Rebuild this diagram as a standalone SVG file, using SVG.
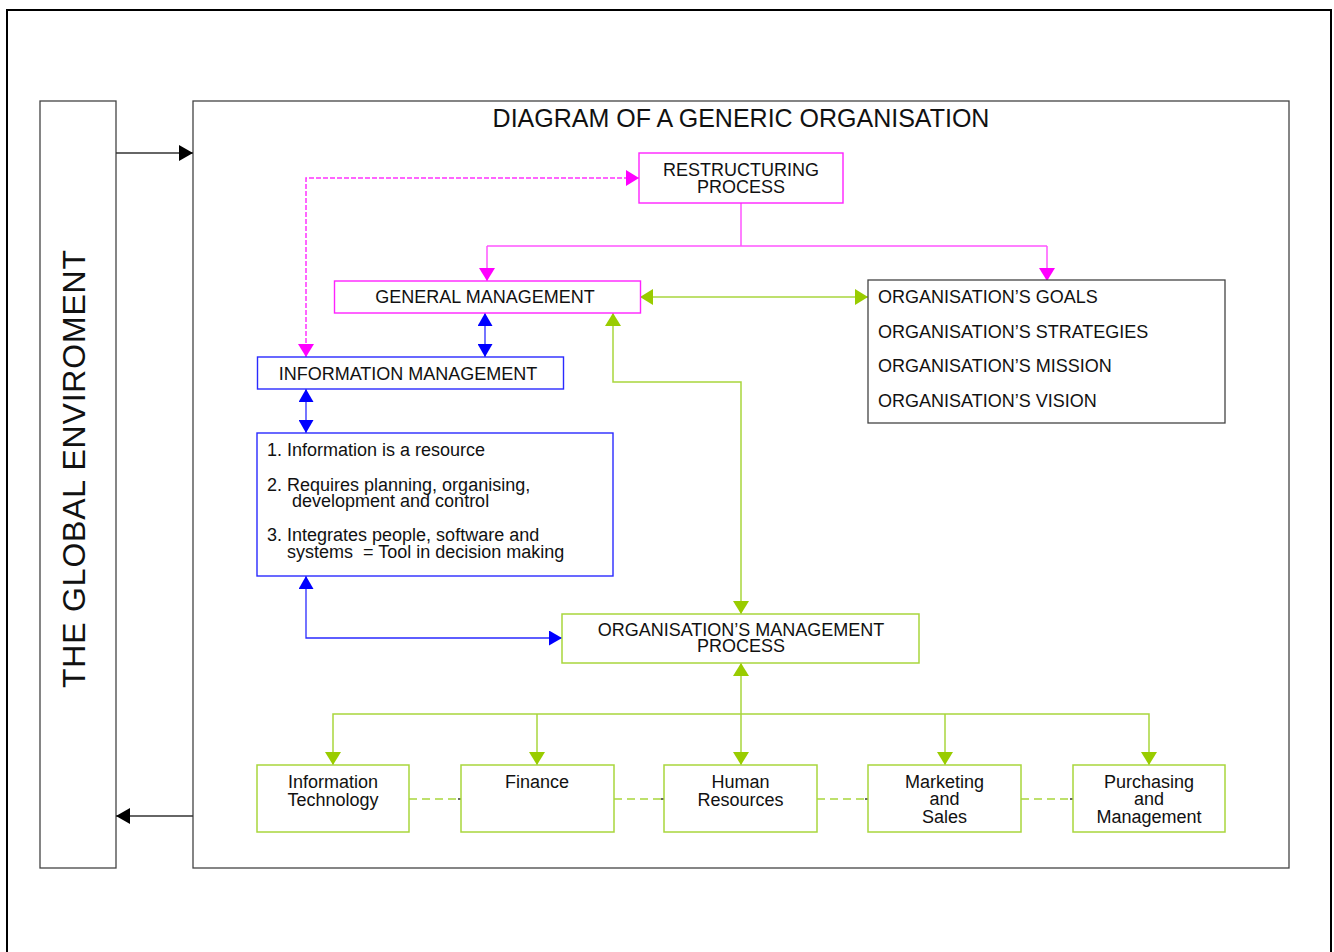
<svg xmlns="http://www.w3.org/2000/svg" width="1334" height="952" viewBox="0 0 1334 952">
  <style>
    text { font-family: "Liberation Sans", Arial, Helvetica, sans-serif; fill: #111; }
    .t18 { font-size: 18px; }
    .mid { text-anchor: middle; }
    .frame { fill: none; stroke: #000; stroke-width: 2; }
    .box { fill: #fff; stroke: #444; stroke-width: 1.3; }
    .mag { fill: #fff; stroke: #ff22ff; stroke-width: 1.4; }
    .blu { fill: #fff; stroke: #2a2aff; stroke-width: 1.4; }
    .grn { fill: #fff; stroke: #a9d63c; stroke-width: 1.5; }
    .blk-ln { fill: none; stroke: #333; stroke-width: 1.3; }
    .mag-ln { fill: none; stroke: #ff55ff; stroke-width: 1.5; }
    .mag-dash { fill: none; stroke: #ff33ff; stroke-width: 1.5; stroke-dasharray: 5 2; }
    .blu-ln { fill: none; stroke: #2a2aff; stroke-width: 1.3; }
    .grn-ln { fill: none; stroke: #a9d63c; stroke-width: 1.5; }
    .grn-dash { fill: none; stroke: #a9d63c; stroke-width: 1.5; stroke-dasharray: 8 5; }
  </style>
  <defs>
    <marker id="arrBlack" viewBox="0 0 14 16" markerUnits="userSpaceOnUse" markerWidth="14" markerHeight="16" refX="14" refY="8" orient="auto-start-reverse">
      <path d="M0,0 L14,8 L0,16 Z" fill="#000"/>
    </marker>
    <marker id="arrMag" viewBox="0 0 13 16" markerUnits="userSpaceOnUse" markerWidth="13" markerHeight="16" refX="13" refY="8" orient="auto-start-reverse">
      <path d="M0,0 L13,8 L0,16 Z" fill="#ff00ff"/>
    </marker>
    <marker id="arrBlue" viewBox="0 0 13 15" markerUnits="userSpaceOnUse" markerWidth="13" markerHeight="15" refX="13" refY="7.5" orient="auto-start-reverse">
      <path d="M0,0 L13,7.5 L0,15 Z" fill="#0000ff"/>
    </marker>
    <marker id="arrGreen" viewBox="0 0 13 16" markerUnits="userSpaceOnUse" markerWidth="13" markerHeight="16" refX="13" refY="8" orient="auto-start-reverse">
      <path d="M0,0 L13,8 L0,16 Z" fill="#99cc00"/>
    </marker>
  </defs>

  <rect width="1334" height="952" fill="#fff"/>
  <!-- page frame (runs past the bottom edge) -->
  <rect class="frame" x="7" y="10" width="1324" height="960"/>

  <g id="global-environment">
    <rect class="box" x="40" y="101" width="76" height="767"/>
    <text transform="translate(85,469) rotate(-90)" class="mid" font-size="32" textLength="438" lengthAdjust="spacing">THE GLOBAL ENVIROMENT</text>
  </g>

  <g id="organisation">
    <rect class="box" x="193" y="101" width="1096" height="767"/>
    <text x="741" y="127" class="mid" font-size="25">DIAGRAM OF A GENERIC ORGANISATION</text>
  </g>

  <g id="connectors">
    <!-- environment exchange -->
    <path class="blk-ln" d="M116,153 H193" marker-end="url(#arrBlack)"/>
    <path class="blk-ln" d="M193,816 H116" marker-end="url(#arrBlack)"/>
    <!-- restructuring fan-out -->
    <path class="mag-ln" d="M741,203 V246 M487,246 H1047"/>
    <path class="mag-ln" d="M487,246 V281" marker-end="url(#arrMag)"/>
    <path class="mag-ln" d="M1047,246 V281" marker-end="url(#arrMag)"/>
    <path class="mag-dash" d="M306,357 V178 H639" marker-start="url(#arrMag)" marker-end="url(#arrMag)"/>
    <!-- information flows -->
    <path class="blu-ln" d="M485,313 V357" marker-start="url(#arrBlue)" marker-end="url(#arrBlue)"/>
    <path class="blu-ln" d="M306,389 V433" marker-start="url(#arrBlue)" marker-end="url(#arrBlue)"/>
    <path class="blu-ln" d="M306,576 V638 H562" marker-start="url(#arrBlue)" marker-end="url(#arrBlue)"/>
    <!-- management flows -->
    <path class="grn-ln" d="M640,297 H868" marker-start="url(#arrGreen)" marker-end="url(#arrGreen)"/>
    <path class="grn-ln" d="M613,313 V382 H741 V614" marker-start="url(#arrGreen)" marker-end="url(#arrGreen)"/>
    <path class="grn-ln" d="M741,663 V765" marker-start="url(#arrGreen)" marker-end="url(#arrGreen)"/>
    <path class="grn-ln" d="M333,765 V714 H1149 V765" marker-start="url(#arrGreen)" marker-end="url(#arrGreen)"/>
    <path class="grn-ln" d="M537,714 V765" marker-end="url(#arrGreen)"/>
    <path class="grn-ln" d="M945,714 V765" marker-end="url(#arrGreen)"/>
    <!-- links between departments -->
    <path class="grn-dash" d="M409,799 H458 M614,799 H661 M817,799 H865 M1021,799 H1070"/>
    <path class="blk-ln" d="M458,799 H461 M661,799 H664 M865,799 H868 M1070,799 H1073"/>
  </g>

  <g id="restructuring">
    <rect class="mag" x="639" y="153" width="204" height="50"/>
    <text x="741" y="176" class="t18 mid">RESTRUCTURING</text>
    <text x="741" y="192.5" class="t18 mid">PROCESS</text>
  </g>

  <g id="general-management">
    <rect class="mag" x="334.5" y="281" width="306" height="32"/>
    <text x="485" y="303" class="t18 mid">GENERAL MANAGEMENT</text>
  </g>

  <g id="organisation-goals">
    <rect class="box" x="868" y="280" width="357" height="143"/>
    <text x="878" y="303" class="t18">ORGANISATION’S GOALS</text>
    <text x="878" y="338" class="t18">ORGANISATION’S STRATEGIES</text>
    <text x="878" y="372" class="t18">ORGANISATION’S MISSION</text>
    <text x="878" y="406.5" class="t18">ORGANISATION’S VISION</text>
  </g>

  <g id="information-management">
    <rect class="blu" x="257.5" y="357" width="306" height="32"/>
    <text x="408" y="379.5" class="t18 mid">INFORMATION MANAGEMENT</text>
  </g>

  <g id="information-principles">
    <rect class="blu" x="257" y="433" width="356" height="143"/>
    <text x="267" y="456" class="t18">1. Information is a resource</text>
    <text x="267" y="490.5" class="t18">2. Requires planning, organising,</text>
    <text x="292" y="506.5" class="t18">development and control</text>
    <text x="267" y="541" class="t18">3. Integrates people, software and</text>
    <text x="287" y="558" class="t18" xml:space="preserve">systems  = Tool in decision making</text>
  </g>

  <g id="management-process">
    <rect class="grn" x="562" y="614" width="357" height="49"/>
    <text x="741" y="635.5" class="t18 mid">ORGANISATION’S MANAGEMENT</text>
    <text x="741" y="652" class="t18 mid">PROCESS</text>
  </g>

  <g id="information-technology">
    <rect class="grn" x="257" y="765" width="152" height="67"/>
    <text x="333" y="787.5" class="t18 mid">Information</text>
    <text x="333" y="805.5" class="t18 mid">Technology</text>
  </g>

  <g id="finance">
    <rect class="grn" x="461" y="765" width="153" height="67"/>
    <text x="537" y="787.5" class="t18 mid">Finance</text>
  </g>

  <g id="human-resources">
    <rect class="grn" x="664" y="765" width="153" height="67"/>
    <text x="740.5" y="787.5" class="t18 mid">Human</text>
    <text x="740.5" y="805.5" class="t18 mid">Resources</text>
  </g>

  <g id="marketing-sales">
    <rect class="grn" x="868" y="765" width="153" height="67"/>
    <text x="944.5" y="787.5" class="t18 mid">Marketing</text>
    <text x="944.5" y="805" class="t18 mid">and</text>
    <text x="944.5" y="822.5" class="t18 mid">Sales</text>
  </g>

  <g id="purchasing-management">
    <rect class="grn" x="1073" y="765" width="152" height="67"/>
    <text x="1149" y="787.5" class="t18 mid">Purchasing</text>
    <text x="1149" y="805" class="t18 mid">and</text>
    <text x="1149" y="822.5" class="t18 mid">Management</text>
  </g>
</svg>
